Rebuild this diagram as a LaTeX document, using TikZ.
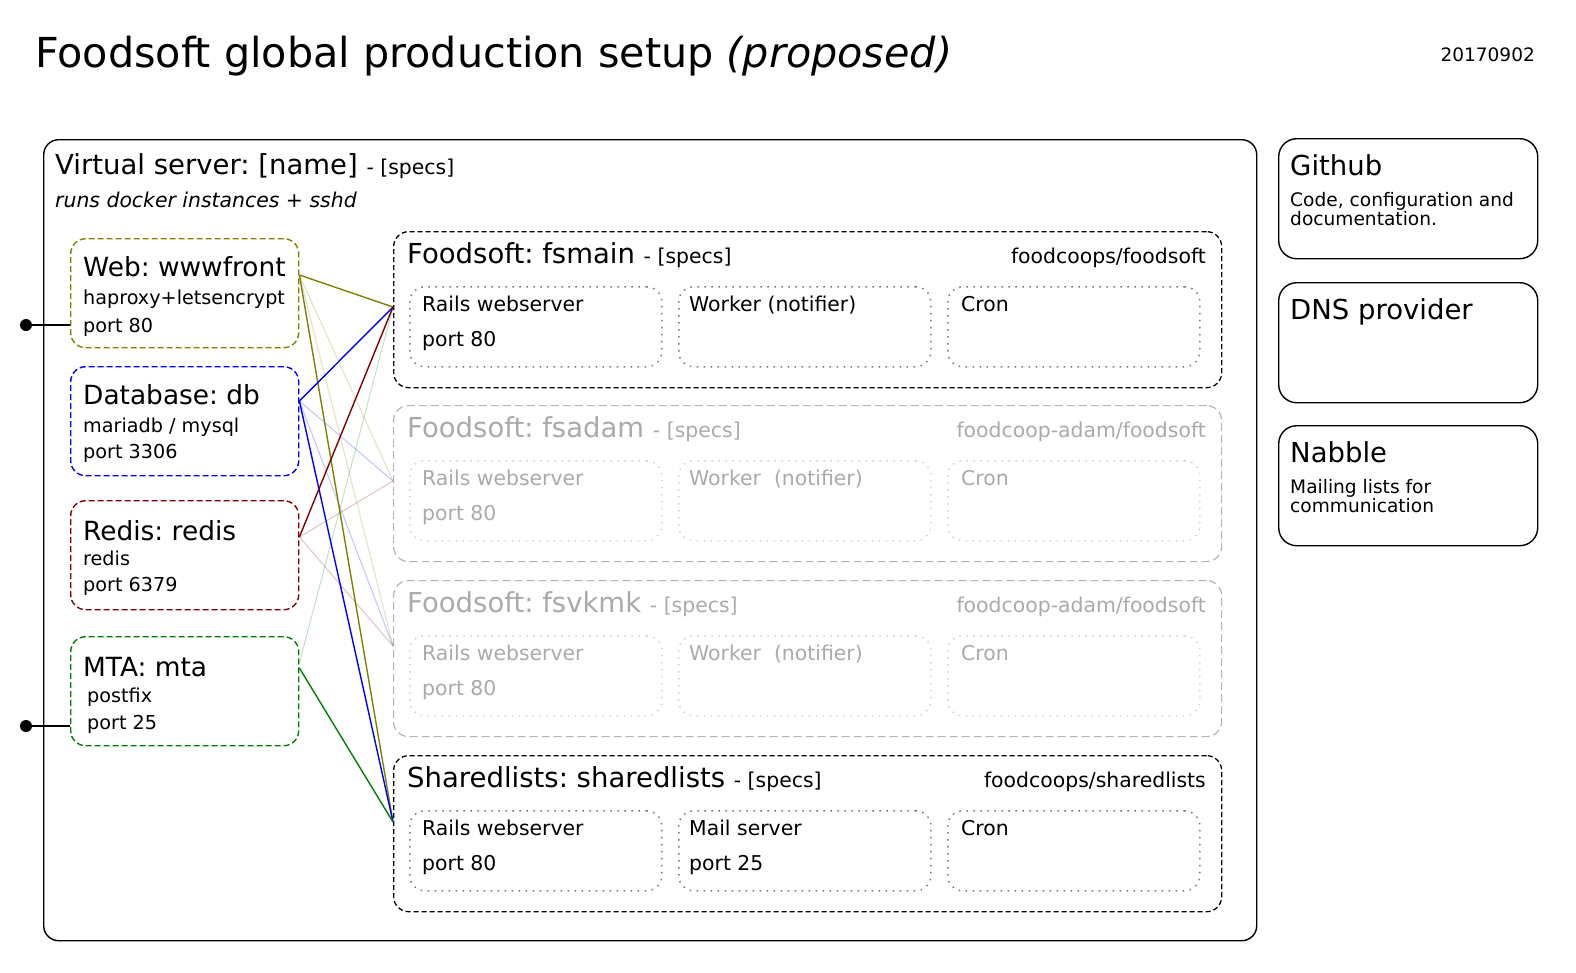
\documentclass[tikz,border=0pt]{standalone}
\usepackage{fontspec}
\setmainfont{DejaVu Sans}
\usetikzlibrary{calc}
\definecolor{olv}{RGB}{128,128,0}
\definecolor{blu}{RGB}{0,0,255}
\definecolor{drd}{RGB}{128,0,0}
\definecolor{grn}{RGB}{0,128,0}
\definecolor{ftxt}{RGB}{170,170,170}
\definecolor{fbrd}{RGB}{180,180,180}
\definecolor{fdot}{RGB}{210,210,210}
\definecolor{ddot}{RGB}{120,120,120}
\frenchspacing
\begin{document}
\begin{tikzpicture}[x=1pt,y=-1pt,
  txt/.style={inner sep=0pt, anchor=base west},
  big/.style={txt, font=\fontsize{41.3}{48}\selectfont},
  ttl/.style={txt, font=\fontsize{27.5}{32}\selectfont},
  lttl/.style={txt, font=\fontsize{26.4}{31}\selectfont},
  sub/.style={txt, font=\fontsize{19.2}{23}\selectfont},
  med/.style={txt, font=\fontsize{20.4}{24}\selectfont},
  sml/.style={txt, font=\fontsize{18.6}{17}\selectfont, align=left},
  boxbase/.style={rectangle, inner sep=0pt, anchor=north west},
  outerbox/.style={boxbase, draw=black, line width=1.4pt, rounded corners=15pt},
  sidebox/.style={boxbase, draw=black, line width=1.4pt, rounded corners=18pt, minimum width=259pt, minimum height=120pt},
  leftbox/.style={boxbase, line width=1.4pt, dash pattern=on 6pt off 3pt, rounded corners=15pt, minimum width=228pt, minimum height=109pt},
  fsbox/.style={boxbase, draw=black, line width=1.3pt, dash pattern=on 5pt off 3pt, rounded corners=15pt, minimum width=828pt, minimum height=156pt},
  fsgray/.style={boxbase, draw=fbrd, line width=1.2pt, dash pattern=on 8pt off 4pt, rounded corners=15pt, minimum width=828pt, minimum height=156pt},
  inbox/.style={boxbase, draw=ddot, line width=1.5pt, dash pattern=on 1.5pt off 5.5pt, rounded corners=15pt, minimum width=252pt, minimum height=80pt},
  ingray/.style={inbox, draw=fdot},
  conn/.style={line width=1.4pt},
  faint/.style={line width=1.1pt, opacity=0.22},
  dotend/.style={circle, fill=black, inner sep=0pt, minimum size=12pt}
]
\useasboundingbox (0,0) rectangle (1576,972);

% title
\node[big] (title) at (35,67) {Foodsoft global production setup \textit{(proposed)}};
\node[txt, font=\fontsize{18.5}{22}\selectfont, anchor=base east] (date) at (1535,61) {20170902};

% virtual server
\node[outerbox, minimum width=1213pt, minimum height=801pt] (vs) at (43,139) {};
\node[ttl] (vst) at (55,174) {Virtual server: [name] {\fontsize{20.4}{24}\selectfont - [specs]}};
\node[med, font=\fontsize{20.4}{24}\selectfont\itshape] (vss) at (55,207) {runs docker instances + sshd};

% left boxes
\node[leftbox, draw=olv] (www) at (70,238) {};
\node[lttl] (wwwt) at (83,276) {Web: wwwfront};
\node[sub] (www1) at (83,304) {haproxy+letsencrypt};
\node[sub] (www2) at (83,332) {port 80};

\node[leftbox, draw=blu] (db) at (70,366) {};
\node[lttl] (dbt) at (83,404) {Database: db};
\node[sub] (db1) at (83,432) {mariadb / mysql};
\node[sub] (db2) at (83,458) {port 3306};

\node[leftbox, draw=drd] (redis) at (70,500) {};
\node[lttl] (rdt) at (83,540) {Redis: redis};
\node[sub] (rd1) at (83,565) {redis};
\node[sub] (rd2) at (83,591) {port 6379};

\node[leftbox, draw=grn] (mta) at (70,636) {};
\node[lttl] (mtat) at (83,676) {MTA: mta};
\node[sub] (mta1) at (87,702) {postfix};
\node[sub] (mta2) at (87,729) {port 25};

% external dots
\node[dotend] (d1) at (26,325) {};
\node[dotend] (d2) at (26,726) {};
\draw[line width=1.4pt] (d1.center) -- (d1.center -| www.west);
\draw[line width=1.4pt] (d2.center) -- (d2.center -| mta.west);

% fsmain
\node[fsbox] (fsmain) at (393,231) {};
\node[ttl] (fsmt) at (407,263) {Foodsoft: fsmain {\fontsize{20.4}{24}\selectfont - [specs]}};
\node[med, anchor=base east] (fsmr) at (1206,263) {foodcoops/foodsoft};
\node[inbox] (fsm1) at (409,286) {};
\node[inbox] (fsm2) at (678,286) {};
\node[inbox] (fsm3) at (947,286) {};
\node[med] (fsm1a) at (422,311) {Rails webserver};
\node[med] (fsm1b) at (422,346) {port 80};
\node[med] (fsm2a) at (689,311) {Worker (notifier)};
\node[med] (fsm3a) at (961,311) {Cron};

% fsadam
\node[fsgray] (fsadam) at (393,405) {};
\node[ttl, text=ftxt] (fsat) at (407,437) {Foodsoft: fsadam {\fontsize{20.4}{24}\selectfont - [specs]}};
\node[med, text=ftxt, anchor=base east] (fsar) at (1206,437) {foodcoop-adam/foodsoft};
\node[ingray] (fsa1) at (409,460) {};
\node[ingray] (fsa2) at (678,460) {};
\node[ingray] (fsa3) at (947,460) {};
\node[med, text=ftxt] (fsa1a) at (422,485) {Rails webserver};
\node[med, text=ftxt] (fsa1b) at (422,520) {port 80};
\node[med, text=ftxt] (fsa2a) at (689,485) {Worker\ \ (notifier)};
\node[med, text=ftxt] (fsa3a) at (961,485) {Cron};

% fsvkmk
\node[fsgray] (fsvkmk) at (393,580) {};
\node[ttl, text=ftxt] (fsvt) at (407,612) {Foodsoft: fsvkmk {\fontsize{20.4}{24}\selectfont - [specs]}};
\node[med, text=ftxt, anchor=base east] (fsvr) at (1206,612) {foodcoop-adam/foodsoft};
\node[ingray] (fsv1) at (409,635) {};
\node[ingray] (fsv2) at (678,635) {};
\node[ingray] (fsv3) at (947,635) {};
\node[med, text=ftxt] (fsv1a) at (422,660) {Rails webserver};
\node[med, text=ftxt] (fsv1b) at (422,695) {port 80};
\node[med, text=ftxt] (fsv2a) at (689,660) {Worker\ \ (notifier)};
\node[med, text=ftxt] (fsv3a) at (961,660) {Cron};

% sharedlists
\node[fsbox] (shl) at (393,755) {};
\node[ttl] (shlt) at (407,787) {Sharedlists: sharedlists {\fontsize{20.4}{24}\selectfont - [specs]}};
\node[med, anchor=base east] (shlr) at (1206,787) {foodcoops/sharedlists};
\node[inbox] (shl1) at (409,810) {};
\node[inbox] (shl2) at (678,810) {};
\node[inbox] (shl3) at (947,810) {};
\node[med] (shl1a) at (422,835) {Rails webserver};
\node[med] (shl1b) at (422,870) {port 80};
\node[med] (shl2a) at (689,835) {Mail server};
\node[med] (shl2b) at (689,870) {port 25};
\node[med] (shl3a) at (961,835) {Cron};

% side boxes
\node[sidebox] (gh) at (1278,138) {};
\node[ttl] (ght) at (1290,175) {Github};
\node[sml] (ghs) at (1290,225) {Code, configuration and\\documentation.};
\node[sidebox] (dns) at (1278,282) {};
\node[ttl] (dnst) at (1290,319) {DNS provider};
\node[sidebox] (nab) at (1278,425) {};
\node[ttl] (nabt) at (1290,462) {Nabble};
\node[sml] (nabs) at (1290,512) {Mailing lists for\\communication};

% connector end points
\coordinate (pw) at ($(www.north east)+(0,37)$);
\coordinate (pd) at ($(db.north east)+(0,35)$);
\coordinate (pr) at ($(redis.north east)+(0,37)$);
\coordinate (pmf) at ($(mta.north east)+(0,27)$);
\coordinate (pm) at ($(mta.north east)+(0,32)$);
\coordinate (qm) at ($(fsmain.north west)+(0,76)$);
\coordinate (qa) at ($(fsadam.north west)+(0,76)$);
\coordinate (qv) at ($(fsvkmk.north west)+(0,66)$);
\coordinate (qs) at ($(shl.north west)+(0,67)$);

% faint connectors
\draw[faint, olv] (pw) -- (qa);
\draw[faint, olv] (pw) -- (qv);
\draw[faint, blu] (pd) -- (qa);
\draw[faint, blu] (pd) -- (qv);
\draw[faint, drd] (pr) -- (qa);
\draw[faint, drd] (pr) -- (qv);
\draw[faint, grn] (pmf) -- (qm);

% strong connectors
\draw[conn, olv] (pw) -- (qm);
\draw[conn, olv] (pw) -- (qs);
\draw[conn, blu] (pd) -- (qm);
\draw[conn, blu] (pd) -- (qs);
\draw[conn, drd] (pr) -- (qm);
\draw[conn, grn] (pm) -- (qs);
\end{tikzpicture}
\end{document}
